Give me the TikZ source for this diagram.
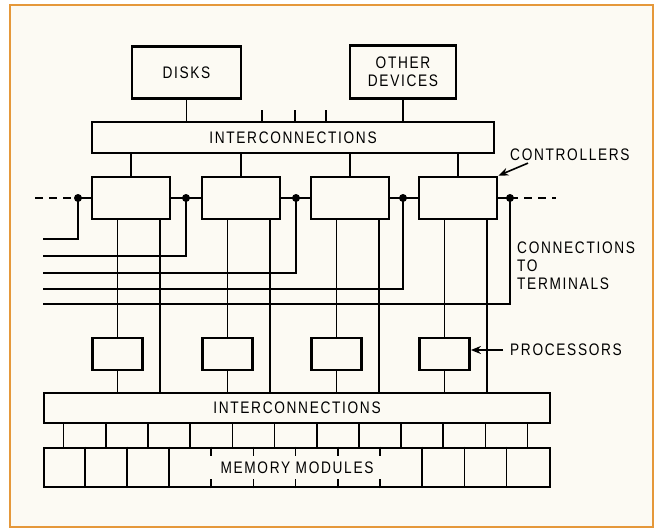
\documentclass[tikz,border=0pt]{standalone}
\usepackage{fontspec}
\setmainfont{Liberation Sans}[FakeStretch=0.82,LetterSpace=10]
\usetikzlibrary{arrows.meta,calc}
\definecolor{cream}{RGB}{252,250,243}
\definecolor{frame}{RGB}{229,152,58}
\newcommand{\lblsize}{\fontsize{16.7}{19}\selectfont}
\tikzset{
  box/.style={draw,line width=2.8pt,inner sep=0pt},
  wire/.style={line width=1.6pt},
  pointer/.style={wire,-{Stealth[length=10pt,width=8pt]}},
  lbl/.style={inner sep=0pt}
}
\begin{document}
\begin{tikzpicture}[x=1pt,y=-1pt,font=\lblsize]
  \fill[white] (0,0) rectangle (658,531);
  \filldraw[fill=cream,draw=frame,line width=2.6pt] (10,5) rectangle (653,527);
  \useasboundingbox (0,0) rectangle (658,531);

  \node[box,minimum width=109,minimum height=52] (disks) at (186.5,72.5) {DISKS};
  \node[box,minimum width=106,minimum height=53,align=center] (other) at (403,72) {OTHER\\[-1pt]DEVICES};
  \node[box,minimum width=402,minimum height=31] (topbus) at (293,137.5) {INTERCONNECTIONS};
  \node[box,minimum width=506,minimum height=30] (membus) at (297,408) {INTERCONNECTIONS};
  \node[box,minimum width=506,minimum height=39] (mem) at (297,467.5) {MEMORY MODULES};

  \foreach \i/\x in {1/131,2/241,3/350,4/458} {
    \node[box,minimum width=78,minimum height=42] (ctl\i) at (\x,198) {};
    \node[box,minimum width=50,minimum height=32] (proc\i) at (\x-13.5,354) {};
  }
  \foreach \i/\x in {1/78,2/186,3/296,4/403,5/510}
    \coordinate (bus\i) at (\x,198);
  \coordinate (busL) at (35,198);
  \coordinate (busR) at (556,198);

  \draw[wire] (disks.south) -- (disks.south |- topbus.north);
  \draw[wire] (other.south) -- (other.south |- topbus.north);
  \foreach \x in {262,295,326}
    \draw[wire] (\x,110) -- (\x,110 |- topbus.north);

  \draw[wire,dash pattern=on 8pt off 6pt] (busL) -- (bus1);
  \draw[wire,dash pattern=on 8pt off 6pt] (bus5) -- (busR);
  \foreach \i [evaluate=\i as \j using int(\i+1)] in {1,...,4} {
    \draw[wire] (ctl\i.north) -- (ctl\i.north |- topbus.south);
    \draw[wire] (bus\i) -- (ctl\i.west) (ctl\i.east) -- (bus\j);
    \draw[wire] ([xshift=-13.5pt]ctl\i.south) -- (proc\i.north);
    \draw[wire] (proc\i.south) -- (proc\i.south |- membus.north);
    \draw[wire] ([xshift=29pt]ctl\i.south) -- ([xshift=29pt]ctl\i.south |- membus.north);
  }
  \foreach \i/\y in {1/239,2/256,3/273,4/289,5/304} {
    \coordinate (term\i) at (43,\y);
    \draw[wire] (bus\i) |- (term\i);
    \fill (bus\i) circle (4pt);
  }

  \foreach \k in {0,...,11}
    \draw[wire] ($(membus.south west)+({42.17*(\k+0.5)},0)$) -- ($(mem.north west)+({42.17*(\k+0.5)},0)$);
  \foreach \k in {1,2,3,9,10,11}
    \draw[wire] ($(mem.north west)+({42.17*\k},0)$) -- ($(mem.south west)+({42.17*\k},0)$);
  \foreach \k in {4,...,8} {
    \draw[wire] ($(mem.north west)+({42.17*\k},0)$) -- +(0,9);
    \draw[wire] ($(mem.south west)+({42.17*\k},0)$) -- +(0,-9);
  }

  \node[lbl,anchor=west] (ctllbl) at (510,155) {CONTROLLERS};
  \draw[pointer] ([xshift=18pt,yshift=-2pt]ctllbl.south west) -- (ctl4.north east);
  \node[lbl,anchor=west,align=left] (termlbl) at (517,266) {CONNECTIONS\\[-1pt]TO\\[-1pt]TERMINALS};
  \node[lbl,anchor=west] (proclbl) at (510,350) {PROCESSORS};
  \draw[pointer] ([xshift=-7pt]proclbl.west) -- (proclbl.west -| proc4.east);
\end{tikzpicture}
\end{document}
